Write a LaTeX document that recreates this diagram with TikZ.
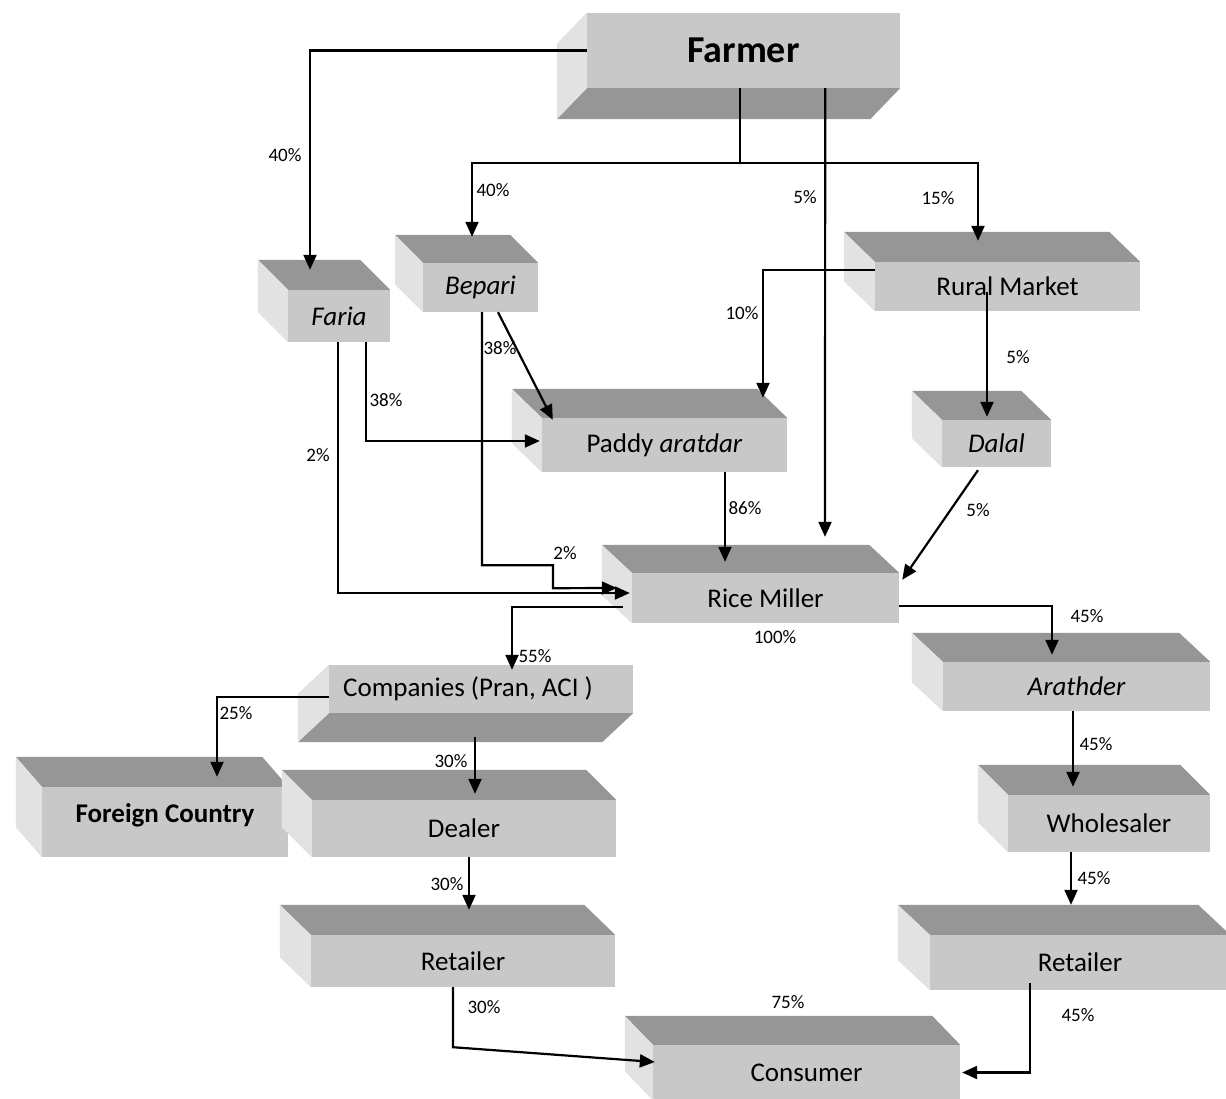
\documentclass[tikz,border=0pt]{standalone}
\usepackage{fontspec}
\setmainfont{Carlito}
\usetikzlibrary{arrows.meta}
\definecolor{frontgray}{RGB}{200,200,200}
\definecolor{topgray}{RGB}{150,150,150}
\definecolor{sidegray}{RGB}{226,226,226}

\begin{document}
\begin{tikzpicture}[x=1pt, y=-1pt,
  stage/.style={fill=frontgray, inner sep=0pt, font=\fontsize{27}{32}\selectfont},
  pct/.style={inner sep=0pt, font=\fontsize{19}{22}\selectfont},
  flow/.style={line width=2.2pt, -{Triangle[length=15pt,width=13pt]}},
  topface/.style={fill=topgray},
  sideface/.style={fill=sidegray}]
\useasboundingbox (0,0) rectangle (1226,1099);
\clip (0,0) rectangle (1226,1099);

% front faces
\node[stage, minimum width=313pt, minimum height=75pt, font=\fontsize{38}{44}\selectfont\bfseries] (farmer) at (743.5,50.5) {Farmer};
\node[stage, minimum width=102pt, minimum height=52pt] (faria) at (339,316) {\itshape Faria};
\node[stage, minimum width=115pt, minimum height=49pt] (bepari) at (480.5,287.5) {\itshape Bepari};
\node[stage, minimum width=245pt, minimum height=54pt] (paddy) at (664.5,445) {Paddy \textit{aratdar}};
\node[stage, minimum width=265pt, minimum height=49pt] (rural) at (1007.5,286.5) {Rural Market};
\node[stage, minimum width=109pt, minimum height=47pt] (dalal) at (996.5,443.5) {\itshape Dalal};
\node[stage, minimum width=267pt, minimum height=50pt] (miller) at (765.5,598) {Rice Miller};
\node[stage, minimum width=304pt, minimum height=48pt] (companies) at (481,689) {Companies (Pran, ACI )\rule{26pt}{0pt}};
\node[stage, minimum width=246pt, minimum height=70pt, font=\fontsize{27}{32}\selectfont\bfseries] (foreign) at (165,822) {Foreign Country\rule[-18pt]{0pt}{0pt}};
\node[stage, minimum width=304pt, minimum height=57pt] (dealer) at (464,828.5) {Dealer};
\node[stage, minimum width=304pt, minimum height=52pt] (retailerL) at (463,961) {Retailer};
\node[stage, minimum width=267pt, minimum height=49pt] (arathder) at (1076.5,686.5) {\itshape Arathder};
\node[stage, minimum width=202pt, minimum height=57pt] (wholesaler) at (1109,823.5) {Wholesaler};
\node[stage, minimum width=300pt, minimum height=55pt] (retailerR) at (1080,962.5) {Retailer};
\node[stage, minimum width=307pt, minimum height=55pt] (consumer) at (806.5,1072.5) {Consumer};

% top and side faces
\foreach \n/\dx/\dy in {faria/-30/-30, bepari/-28/-28, paddy/-30/-29, rural/-31/-30,
    dalal/-30/-29, miller/-30/-28, foreign/-26/-30, dealer/-30/-30, retailerL/-31/-30,
    arathder/-31/-29, wholesaler/-30/-30, retailerR/-32/-30, consumer/-28/-29}{
  \fill[topface] (\n.north west) -- ++(\dx,\dy) -- ([shift={(\dx,\dy)}]\n.north east) -- (\n.north east) -- cycle;
  \fill[sideface] (\n.north west) -- ++(\dx,\dy) -- ([shift={(\dx,\dy)}]\n.south west) -- (\n.south west) -- cycle;
}
\foreach \n/\dx/\dy in {farmer/-30/31, companies/-31/29}{
  \fill[topface] (\n.south west) -- ++(\dx,\dy) -- ([shift={(\dx,\dy)}]\n.south east) -- (\n.south east) -- cycle;
  \fill[sideface] (\n.north west) -- ++(\dx,\dy) -- ([shift={(\dx,\dy)}]\n.south west) -- (\n.south west) -- cycle;
}

% flows
\coordinate (split) at (740,163);
\draw[flow] (farmer.west) -| ([xshift=-29pt,yshift=20pt]faria.north);
\draw[line width=2.2pt] ([xshift=-3.5pt]farmer.south) -- (split);
\draw[flow] (split) -| ([xshift=-8.5pt,yshift=26pt]bepari.north);
\draw[flow] (split) -| ([xshift=-29.5pt,yshift=21pt]rural.north);
\draw[flow] ([xshift=-75pt]farmer.south east) -- ([xshift=59.5pt,yshift=36pt]miller.north);
\draw[flow] ([yshift=16.5pt]rural.west) -| ([xshift=98.5pt,yshift=20pt]paddy.north);
\draw[flow] ([xshift=-20.5pt,yshift=-5.5pt]rural.center) -- ([xshift=-9.5pt,yshift=3pt]dalal.north);
\draw[flow] ([xshift=27pt]faria.south) |- ([xshift=-2pt,yshift=4pt]paddy.west);
\draw[flow] ([xshift=-1pt]faria.south) |- ([xshift=-2pt,yshift=5pt]miller.west);
\draw[flow] ([xshift=1.5pt]bepari.south) -- ++(0,253) -- ++(71,0) -- ++(0,23) -- ([xshift=-15pt,yshift=10pt]miller.west);
\draw[flow] ([xshift=17.5pt]bepari.south) -- ([xshift=11pt,yshift=-2pt]paddy.north west);
\draw[flow] ([xshift=60.5pt]paddy.south) -- ([xshift=-40.5pt,yshift=11pt]miller.north);
\draw[flow] ([xshift=-18.5pt,yshift=-3pt]dalal.south) -- ([xshift=3pt,yshift=-7pt]miller.north east);
\draw[flow] ([yshift=-8pt]miller.east) -| ([xshift=-24.5pt,yshift=7pt]arathder.north);
\draw[flow] ([xshift=-9pt,yshift=-9pt]miller.west) -| ([xshift=31pt,yshift=-5pt]companies.north);
\draw[flow] ([yshift=-8pt]companies.west) -| ([xshift=52pt,yshift=10pt]foreign.north);
\draw[flow] ([xshift=-6pt,yshift=-24pt]companies.south) -- ([xshift=11pt,yshift=6pt]dealer.north);
\draw[flow] ([xshift=5pt]dealer.south) -- ([xshift=6pt,yshift=25pt]retailerL.north);
\draw[flow] ([xshift=-10pt]retailerL.south) -- ++(0,60) -- ([xshift=2pt,yshift=10.5pt]consumer.west);
\draw[flow] ([xshift=-3.5pt]arathder.south) -- ([xshift=-36pt,yshift=8pt]wholesaler.north);
\draw[flow] ([xshift=-38pt]wholesaler.south) -- ([xshift=-9pt,yshift=30pt]retailerR.north);
\draw[flow] ([xshift=-50pt,yshift=7pt]retailerR.south) |- ([xshift=2pt]consumer.east);

% shares
\node[pct] (p1) at (285,155) {40\%};
\node[pct] (p2) at (493,190) {40\%};
\node[pct] (p3) at (805,197) {5\%};
\node[pct] (p4) at (938,198) {15\%};
\node[pct] (p5) at (742,313) {10\%};
\node[pct] (p6) at (1018,357) {5\%};
\node[pct] (p7) at (500,348) {38\%};
\node[pct] (p8) at (386,400) {38\%};
\node[pct] (p9) at (318,455) {2\%};
\node[pct] (p10) at (745,508) {86\%};
\node[pct] (p11) at (978,510) {5\%};
\node[pct] (p12) at (565,553) {2\%};
\node[pct] (p13) at (1087,616) {45\%};
\node[pct] (p14) at (775,637) {100\%};
\node[pct] (p15) at (535,656) {55\%};
\node[pct] (p16) at (236,713) {25\%};
\node[pct] (p17) at (1096,744) {45\%};
\node[pct] (p18) at (451,761) {30\%};
\node[pct] (p19) at (447,884) {30\%};
\node[pct] (p20) at (1094,878) {45\%};
\node[pct] (p21) at (484,1007) {30\%};
\node[pct] (p22) at (788,1002) {75\%};
\node[pct] (p23) at (1078,1015) {45\%};
\end{tikzpicture}
\end{document}
